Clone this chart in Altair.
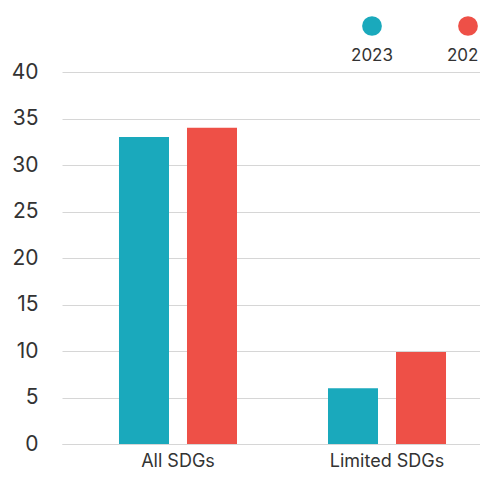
import altair as alt
import pandas as pd

categories = ["All SDGs", "Limited SDGs"]
years = ["2023", "2022"]
values_2023 = [33, 6]
values_2022 = [34, 9.9]
colors = ["#1AA9BC", "#EE5047"]
y_ticks = [0, 5, 10, 15, 20, 25, 30, 35, 40]

rows = []
for i, c in enumerate(categories):
    rows.append({"category": c, "year": "2023", "value": values_2023[i]})
    rows.append({"category": c, "year": "2022", "value": values_2022[i]})
df = pd.DataFrame(rows)
legend_df = pd.DataFrame({"year": years})

FONT = "Inter"
TEXT = "#333333"
GRID = "#d6d6d6"
color_scale = alt.Scale(domain=years, range=colors)

bars = alt.Chart(df).mark_bar().encode(
    x=alt.X(
        "category:N", sort=categories,
        scale=alt.Scale(range=[0, 441], paddingInner=0, paddingOuter=0.055),
        axis=alt.Axis(title=None, labelAngle=0, ticks=False, domain=True,
                      domainColor=GRID, labelPadding=8, labelFontSize=18,
                      labelColor=TEXT, labelFont=FONT, grid=False),
    ),
    xOffset=alt.XOffset("year:N", sort=years,
                        scale=alt.Scale(paddingInner=0.2647, paddingOuter=0.669)),
    y=alt.Y(
        "value:Q", scale=alt.Scale(domain=[0, 40]),
        axis=alt.Axis(values=y_ticks, title=None, ticks=False, domain=False,
                      gridColor=GRID, labelPadding=24, labelFontSize=21,
                      labelColor=TEXT, labelFont=FONT),
    ),
    color=alt.Color("year:N", scale=color_scale, legend=None),
)

legend_x = alt.X("year:N", sort=years,
                 scale=alt.Scale(type="point", domain=years, range=[310, 406], padding=0),
                 axis=None)

leg_pts = alt.Chart(legend_df).mark_circle(size=390, opacity=1).encode(
    x=legend_x,
    y=alt.value(-46),
    color=alt.Color("year:N", scale=color_scale, legend=None),
)

leg_txt_a = alt.Chart(legend_df).transform_filter(
    alt.datum.year == years[0]
).mark_text(
    fontSize=17, baseline="middle", align="center", color=TEXT, font=FONT
).encode(
    x=legend_x,
    y=alt.value(-16),
    text="year:N",
)

leg_txt_b = alt.Chart(legend_df).transform_filter(
    alt.datum.year == years[1]
).mark_text(
    fontSize=17, baseline="middle", align="left", dx=-21, color=TEXT, font=FONT,
    limit=34, ellipsis="\u200b"
).encode(
    x=legend_x,
    y=alt.value(-16),
    text="year:N",
)

chart = alt.layer(bars, leg_pts, leg_txt_a, leg_txt_b).resolve_scale(x="independent").properties(
    width=418, height=372,
    autosize=alt.AutoSizeParams(type="none"),
    padding={"left": 54, "top": 64, "right": 0, "bottom": 25},
).configure_view(stroke=None)

chart.save("out.html", embed_options={"renderer": "svg", "actions": False})
